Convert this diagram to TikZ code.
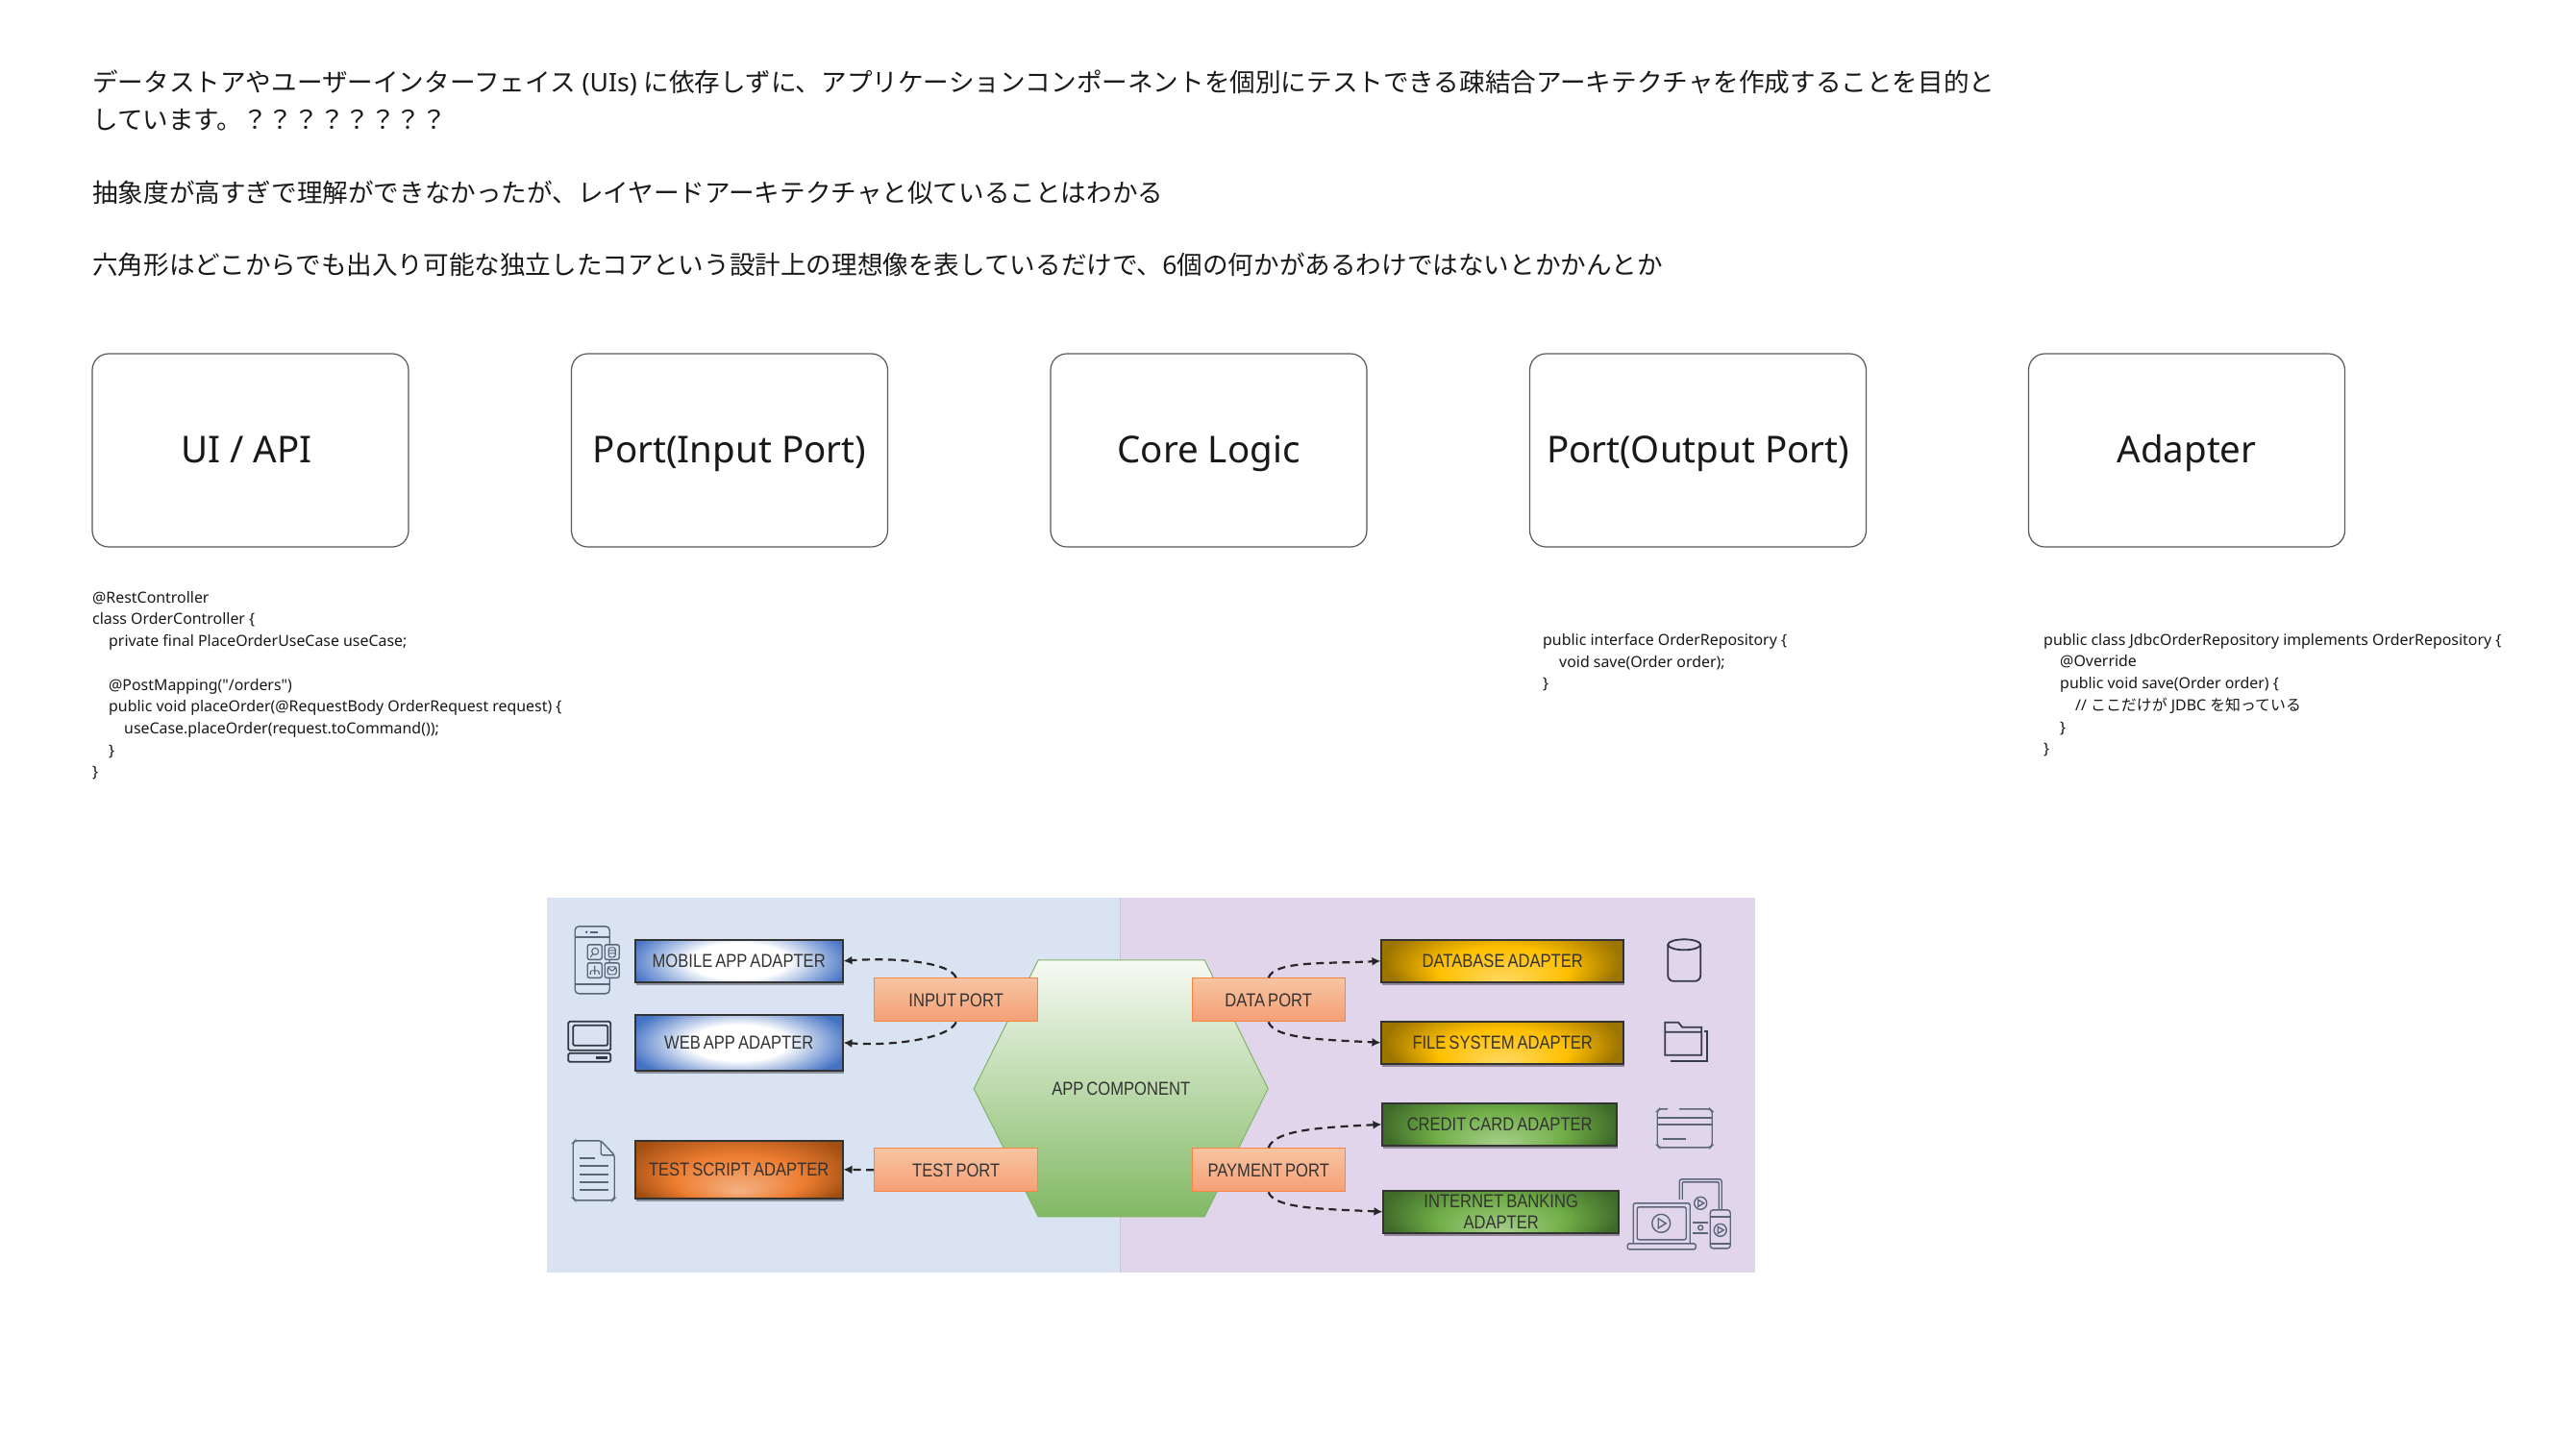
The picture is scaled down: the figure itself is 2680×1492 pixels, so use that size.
\documentclass[tikz,border=0pt]{standalone}
\usepackage{fontspec}
\setmainfont{Noto Sans}
\newfontfamily\codef{Noto Sans}
\newfontfamily\cjk{Noto Sans CJK JP}
\newfontfamily\dg[FakeStretch=0.85,WordSpace=0.65]{Liberation Sans}
\usetikzlibrary{arrows.meta,shadows,calc}
\newcommand{\J}[1]{{\cjk #1}}
\definecolor{bl}{HTML}{4472C4}
\definecolor{orD}{HTML}{A04E12}
\definecolor{orM}{HTML}{ED7D31}
\definecolor{orL}{HTML}{F4B183}
\definecolor{goD}{HTML}{9C7400}
\definecolor{goM}{HTML}{FFC000}
\definecolor{goL}{HTML}{FFD966}
\definecolor{grD}{HTML}{3F6B2A}
\definecolor{grM}{HTML}{70AD47}
\definecolor{grL}{HTML}{A9D18E}
\definecolor{ico}{HTML}{5A6678}
\definecolor{panelL}{RGB}{218,227,242}
\definecolor{panelR}{RGB}{225,213,236}
\pgfdeclareradialshading{blueG}{\pgfpointorigin}{color(0bp)=(white);color(9bp)=(white);color(21bp)=(bl)}
\pgfdeclareradialshading{orG}{\pgfpoint{0bp}{-11bp}}{color(0bp)=(orL);color(12bp)=(orM);color(22bp)=(orD)}
\pgfdeclareradialshading{goG}{\pgfpoint{0bp}{-11bp}}{color(0bp)=(goL);color(12bp)=(goM);color(22bp)=(goD)}
\pgfdeclareradialshading{grG}{\pgfpoint{0bp}{-11bp}}{color(0bp)=(grL);color(12bp)=(grM);color(22bp)=(grD)}
\tikzset{
  x=1pt,y=-1pt,
  titlebox/.style={draw=black!65,line width=1.2pt,rounded corners=17pt,minimum height=201pt,inner sep=0pt,text height=32pt,text depth=6pt,font=\fontsize{38.5}{46}\selectfont,text=black!90},
  toptext/.style={anchor=west,inner sep=0pt,font=\fontsize{26.6}{32}\selectfont,text=black!90},
  codetext/.style={anchor=north west,inner sep=0pt,align=left,font=\codef\fontsize{15.9}{22.7}\selectfont,text=black!90},
  adapter/.style 2 args={draw=black!80,line width=1.6pt,inner sep=0pt,fill=#1,align=center,
    font=\dg\fontsize{19.5}{22}\selectfont,text=black!80,
    drop shadow={shadow xshift=1pt,shadow yshift=-3pt,opacity=.35,fill=black},
    path picture={\shade[shading=#2] (path picture bounding box.center) ellipse (140pt and 52pt);}},
  port/.style={draw=orange!70!red!75,line width=1.1pt,inner sep=0pt,top color=orL!75!white,bottom color=orL!90!red,
    font=\dg\fontsize{19.5}{22}\selectfont,text=black!80},
  link/.style={draw=black!85,line width=2.2pt,dash pattern=on 8pt off 5.5pt,-{Latex[length=9pt,width=9pt]}},
  icon/.style={draw=ico,line width=1.4pt,rounded corners=2pt},
  iconB/.style={draw=black!45!ico,line width=1.8pt,rounded corners=1.5pt},
}
\begin{document}
\begin{tikzpicture}
\useasboundingbox (0,0) rectangle (2680,1492);
\fill[white] (0,0) rectangle (2680,1492);
% top text
\node[toptext] (l1) at (96,86.5) {\J{データストアやユーザーインターフェイス} (UIs) \J{に依存しずに、アプリケーションコンポーネントを個別にテストできる疎結合アーキテクチャを作成することを目的と}};
\node[toptext] (l2) at (96,124.5) {\J{しています。？？？？？？？？}};
\node[toptext] (l3) at (96,200.5) {\J{抽象度が高すぎで理解ができなかったが、レイヤードアーキテクチャと似ていることはわかる}};
\node[toptext] (l4) at (96,275) {\J{六角形はどこからでも出入り可能な独立したコアという設計上の理想像を表しているだけで、}6\J{個の何かがあるわけではないとかかんとか}};
% title boxes
\node[titlebox,minimum width=329pt] (ui) at (260.5,468.5) {UI / API\hspace*{8pt}};
\node[titlebox,minimum width=329pt] (inp) at (759,468.5) {Port(Input Port)};
\node[titlebox,minimum width=329pt] (core) at (1257.5,468.5) {Core Logic};
\node[titlebox,minimum width=350pt] (outp) at (1766.5,468.5) {Port(Output Port)};
\node[titlebox,minimum width=329pt] (adp) at (2275,468.5) {Adapter};
% code
\node[codetext] (c1) at (96,615) {@RestController\\class OrderController \{\\\hspace*{17pt}private final PlaceOrderUseCase useCase;\\\mbox{}\\\hspace*{17pt}@PostMapping("/orders")\\\hspace*{17pt}public void placeOrder(@RequestBody OrderRequest request) \{\\\hspace*{33pt}useCase.placeOrder(request.toCommand());\\\hspace*{17pt}\}\\\}};
\node[codetext] (c2) at (1605,659) {public interface OrderRepository \{\\\hspace*{17pt}void save(Order order);\\\}};
\node[codetext] (c3) at (2126,659) {public class JdbcOrderRepository implements OrderRepository \{\\\hspace*{17pt}@Override\\\hspace*{17pt}public void save(Order order) \{\\\hspace*{33pt}// \J{ここだけが} JDBC \J{を知っている}\\\hspace*{17pt}\}\\\}};
\begin{scope}[xshift=0.2pt,yshift=-0.8pt]
% panels
\fill[panelL] (569,933) rectangle (1165,1323);
\fill[panelR] (1165,933) rectangle (1826,1323);
\draw[line width=1.2pt,draw={rgb,255:red,196;green,196;blue,226}] (1165,933) -- (1165,1323);
% hexagon
\shadedraw[draw={rgb,255:red,130;green,179;blue,102},line width=1pt,top color={rgb,255:red,246;green,250;blue,243},bottom color={rgb,255:red,130;green,185;blue,100}]
  (1080,998) -- (1253,998) -- (1319,1132) -- (1253,1265) -- (1080,1265) -- (1013,1132) -- cycle;
\node[font=\dg\fontsize{19.5}{22}\selectfont,text=black!80,inner sep=0pt] (hex) at (1166,1132) {APP COMPONENT};
% adapters
\node[adapter={bl}{blueG},minimum width=216pt,minimum height=44pt] (mob) at (768.5,999) {MOBILE APP ADAPTER};
\node[adapter={bl}{blueG},minimum width=216pt,minimum height=58pt] (web) at (768.5,1084) {WEB APP ADAPTER};
\node[adapter={orD}{orG},minimum width=216pt,minimum height=60pt] (tst) at (768.5,1216) {TEST SCRIPT ADAPTER};
\node[adapter={goD}{goG},minimum width=252pt,minimum height=44pt] (db) at (1563,999) {DATABASE ADAPTER};
\node[adapter={goD}{goG},minimum width=252pt,minimum height=44pt] (fs) at (1563,1084) {FILE SYSTEM ADAPTER};
\node[adapter={grD}{grG},minimum width=244pt,minimum height=44pt] (cc) at (1560,1169) {CREDIT CARD ADAPTER};
\node[adapter={grD}{grG},minimum width=245pt,minimum height=44pt] (ib) at (1561.5,1260) {INTERNET BANKING\\ADAPTER};
% ports
\node[port,minimum width=170pt,minimum height=45pt] (pin) at (994.5,1039.5) {INPUT PORT};
\node[port,minimum width=170pt,minimum height=45pt] (ptest) at (994.5,1216.5) {TEST PORT};
\node[port,minimum width=159pt,minimum height=45pt] (pdata) at (1319.5,1039.5) {DATA PORT};
\node[port,minimum width=159pt,minimum height=45pt] (ppay) at (1319.5,1216.5) {PAYMENT PORT};
% connectors
\draw[link] (pin.north) .. controls +(-6,-16) and +(55,-4) .. (mob.east);
\draw[link] (pin.south) .. controls +(-6,16) and +(55,4) .. (web.east);
\draw[link] (ptest.west) -- (tst.east);
\draw[link] (pdata.north) .. controls +(6,-18) and +(-55,3) .. (db.west);
\draw[link] (pdata.south) .. controls +(6,18) and +(-55,-3) .. (fs.west);
\draw[link] (ppay.north) .. controls +(6,-20) and +(-55,3) .. (cc.west);
\draw[link] (ppay.south) .. controls +(6,18) and +(-55,-3) .. (ib.west);
% phone icon
\draw[icon,rounded corners=4pt] (598,963) rectangle (634,1033);
\draw[icon] (598,974) -- (634,974) (598,1023) -- (634,1023) (614,969) -- (622,969);
\fill[ico] (610,969) circle (1.4);
\foreach \xa/\ya in {611/982,629/982,611/1001,629/1001}{
  \draw[icon,fill=panelL] (\xa,\ya) rectangle +(15,15.5);}
\draw[icon,line width=1.1pt] (619,989) circle (3.5) (616.5,992) -- (614,995);
\draw[icon,line width=1.1pt] (633,985) rectangle (640,995) (633,988) -- (640,988) (633,991) -- (640,991);
\draw[icon,line width=1.1pt] (618.5,1004) -- (618.5,1013) (614,1013) -- (614,1009) -- (623,1009) -- (623,1013);
\draw[icon,line width=1.1pt] (632,1005) rectangle (641,1013) (632,1005) -- (636.5,1010) -- (641,1005);
% laptop icon
\draw[iconB] (591,1062) rectangle (635,1092);
\draw[iconB] (596,1066) rectangle (632,1087);
\draw[iconB] (591,1095) rectangle (635,1104);
\draw[line width=2.5pt,draw=black!45!ico] (620,1099.5) -- (632,1099.5);
% document icon
\draw[icon] (625,1186) -- (598,1186) -- (596,1188) -- (596,1246) -- (598,1248) -- (637,1248) -- (639,1246) -- (639,1201) -- cycle;
\draw[icon] (625,1186) -- (625,1201) -- (639,1201);
\draw[icon] (603,1204) -- (619,1204) (603,1212) -- (633,1212) (603,1221) -- (633,1221) (603,1229) -- (633,1229) (603,1237) -- (633,1237);
% database icon
\draw[iconB,rounded corners=0pt] (1752,982) ellipse (17pt and 5.5pt);
\draw[iconB,rounded corners=6pt] (1735,982) -- (1735,1020) -- (1769,1020) -- (1769,982);
% folder icon
\draw[draw=black!40!ico,line width=1.8pt] (1732,1097) -- (1732,1063) -- (1746,1063) -- (1750,1068) -- (1770,1068) -- (1770,1097) -- cycle (1732,1073) -- (1770,1073);
\draw[draw=black!40!ico,line width=1.8pt] (1773,1072) -- (1776,1072) -- (1776,1103) -- (1738,1103);
% card icon
\draw[icon] (1735,1153) -- (1726,1153) -- (1724,1155) -- (1724,1191) -- (1726,1193) -- (1779,1193) -- (1781,1191) -- (1781,1155) -- (1779,1153) -- (1747,1153);
\draw[icon] (1724,1162) -- (1781,1162) (1724,1169) -- (1781,1169) (1730,1184) -- (1754,1184);
% devices icon
\draw[icon,rounded corners=2.5pt] (1747,1247) -- (1747,1226) -- (1791,1226) -- (1791,1258);
\draw[icon,rounded corners=1pt] (1750,1247) -- (1750,1229) -- (1788,1229) -- (1788,1258);
\draw[icon] (1769,1251) circle (6.5);
\draw[icon,rounded corners=0pt] (1766.5,1247.5) -- (1766.5,1254.5) -- (1772.5,1251) -- cycle;
\draw[icon] (1699,1293) -- (1699,1251) -- (1758,1251) -- (1758,1293);
\draw[icon] (1703,1255) rectangle (1754,1289);
\draw[icon] (1693,1293) rectangle (1764,1299);
\draw[icon] (1728,1272) circle (9.5);
\draw[icon,rounded corners=0pt] (1725,1267) -- (1725,1277) -- (1733,1272) -- cycle;
\draw[icon] (1761,1271) -- (1777,1271) (1761,1282) -- (1777,1282);
\draw[icon] (1769,1276.5) circle (2.5);
\draw[icon,rounded corners=3pt,fill=panelR] (1779,1258) rectangle (1800,1298);
\draw[icon] (1779,1265) -- (1800,1265) (1779,1293) -- (1800,1293);
\draw[icon] (1789.5,1279) circle (6.5);
\draw[icon,rounded corners=0pt] (1787,1275.5) -- (1787,1282.5) -- (1793,1279) -- cycle;
\end{scope}
\end{tikzpicture}
\end{document}
